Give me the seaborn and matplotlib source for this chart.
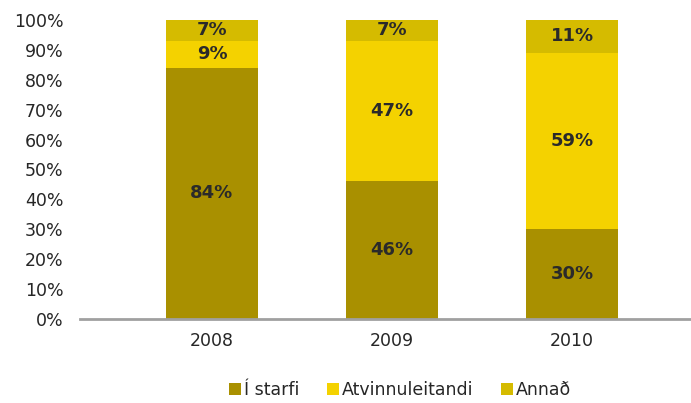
import matplotlib
matplotlib.use("Agg")
import matplotlib.pyplot as plt
from matplotlib.patches import Patch
import numpy as np
import pandas as pd
import seaborn as sns

years = ["2008", "2009", "2010"]
series = ["Í starfi", "Atvinnuleitandi", "Annað"]
i_starfi = [84, 46, 30]
atvinnuleitandi = [9, 47, 59]
annad = [7, 7, 11]
colors = ["#A99000", "#F4D200", "#D5BB00"]

sns.set_style("white")
plt.rcParams["font.family"] = ["DejaVu Sans"]

values = np.array([i_starfi, atvinnuleitandi, annad], dtype=float)
cum = values.cumsum(axis=0)
frame = pd.DataFrame({"year": years})
for name, row in zip(series, cum):
    frame[name] = row

fig = plt.figure(figsize=(6.91, 4.03), dpi=100)
ax = fig.add_axes([80 / 691, 84 / 403, 611 / 691, 299 / 403])

# draw cumulative totals from back to front
for name, color in reversed(list(zip(series, colors))):
    sns.barplot(data=frame, x="year", y=name, color=color, width=0.51,
                saturation=1, linewidth=0, ax=ax, zorder=2)

for j in range(len(years)):
    for i in range(len(series)):
        top = cum[i, j]
        mid = top - values[i, j] / 2
        ax.text(j, mid, f"{int(values[i, j])}%", ha="center", va="center",
                fontsize=13, fontweight="bold", color="#2a2a2a", zorder=3)

ax.set_xlim(-0.733, 2.66)
ax.set_ylim(0, 100)
ax.set_yticks(range(0, 101, 10))
ax.set_yticklabels([f"{v}%" for v in range(0, 101, 10)])
ax.set_xlabel("")
ax.set_ylabel("")
ax.tick_params(axis="y", length=0, pad=12, labelsize=12.5, labelcolor="#262626")
ax.tick_params(axis="x", length=0, pad=9, labelsize=12.5, labelcolor="#262626")
for side in ["top", "right", "left"]:
    ax.spines[side].set_visible(False)
ax.spines["bottom"].set_color("#a0a0a0")
ax.spines["bottom"].set_linewidth(2)
ax.spines["bottom"].set_zorder(4)

handles = [Patch(facecolor=c, edgecolor="none") for c in colors]
fig.legend(handles, series, loc="center", bbox_to_anchor=(400 / 691, 13 / 403),
           ncol=3, frameon=False, fontsize=12.5, handlelength=0.7, handleheight=0.7,
           handletextpad=0.15, columnspacing=1.6, labelcolor="#262626")

fig.savefig("out.png", dpi=100)
